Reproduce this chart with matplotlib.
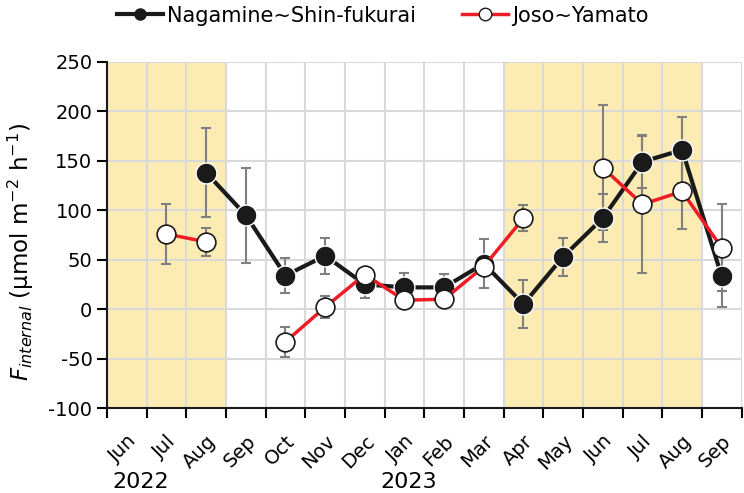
import numpy as np
import matplotlib
matplotlib.use("Agg")
import matplotlib.pyplot as plt
from matplotlib.lines import Line2D

# month labels (Jun 2022 .. Sep 2023)
months = ["Jun", "Jul", "Aug", "Sep", "Oct", "Nov", "Dec", "Jan",
          "Feb", "Mar", "Apr", "May", "Jun", "Jul", "Aug", "Sep"]

nan = np.nan
# Nagamine~Shin-fukurai
naga = [nan, nan, 138, 95, 34, 54, 25, 22, 22, 46, 5, 53, 92, 149, 161, 33]
naga_err = [nan, nan, 45, 48, 18, 18, 14, 15, 14, 25, 24, 19, 24, 27, 33, 31]
# Joso~Yamato
joso = [nan, 76, 68, nan, -33, 2, 35, 9, 10, 43, 92, nan, 143, 106, 119, 62]
joso_err = [nan, 30, 14, nan, 15, 11, 0, 0, 0, 0, 13, nan, 63, 69, 38, 44]

# shaded periods (month index ranges)
shade = [(0, 3), (10, 15)]

plt.rcParams["font.family"] = "DejaVu Sans"
plt.rcParams["mathtext.fontset"] = "dejavusans"
plt.rcParams["axes.unicode_minus"] = False

fig = plt.figure(figsize=(7.44, 4.93), dpi=100)
ax = fig.add_axes([0.1438, 0.1724, 0.853, 0.702])

x = np.arange(len(months)) + 0.5

for a, b in shade:
    ax.axvspan(a, b, color="#fcebb2", zorder=0.2, lw=0)

ax.errorbar(x, naga, yerr=naga_err, fmt="none", ecolor="#808080",
            elinewidth=1.5, capsize=3.5, capthick=1.5, zorder=2)
ax.errorbar(x, joso, yerr=joso_err, fmt="none", ecolor="#808080",
            elinewidth=1.5, capsize=3.5, capthick=1.5, zorder=2)

ax.plot(x, naga, color="#1a1a1a", lw=3, marker="o", ms=15,
        mfc="#1a1a1a", mec="white", mew=1, zorder=3)
ax.plot(x, joso, color="#ee1c24", lw=2.5, marker="o", ms=13.5,
        mfc="white", mec="#1a1a1a", mew=1.2, zorder=4)

ax.set_xlim(0, 16)
ax.set_ylim(-100, 250)
ax.set_yticks(np.arange(-100, 251, 50))
ax.set_xticks(np.arange(0, 17))
ax.set_xticklabels([])
ax.set_xticks(x, minor=True)
ax.set_xticklabels(months, minor=True, rotation=45, ha="right",
                   rotation_mode="anchor")
ax.tick_params(axis="x", which="minor", length=0, pad=17, labelsize=14)
ax.tick_params(axis="both", which="major", direction="out", length=7,
               width=1.5, labelsize=14)

ax.set_axisbelow(True)
ax.grid(True, which="major", color="#d9d9d9", lw=1.5, zorder=0.5)

for s in ["top", "right"]:
    ax.spines[s].set_visible(False)
for s in ["left", "bottom"]:
    ax.spines[s].set_linewidth(1.5)
    ax.spines[s].set_color("#1a1a1a")

ax.set_ylabel(r"$F_{internal}$ (µmol m$^{-2}$ h$^{-1}$)", fontsize=16.5)
ax.yaxis.set_label_coords(-0.112, 0.45)

ax.annotate("2022", xy=(0.85, 0.022), xycoords=("data", "figure fraction"),
            ha="center", va="center", fontsize=16)
ax.annotate("2023", xy=(7.6, 0.022), xycoords=("data", "figure fraction"),
            ha="center", va="center", fontsize=16)

handles = [
    Line2D([], [], color="#1a1a1a", lw=3, marker="o", ms=8, mfc="#1a1a1a",
           mec="#1a1a1a"),
    Line2D([], [], color="#ee1c24", lw=2.5, marker="o", ms=9, mfc="white",
           mec="#1a1a1a", mew=1),
]
fig.legend(handles, ["Nagamine~Shin-fukurai", "Joso~Yamato"], ncol=2,
           loc="center", bbox_to_anchor=(0.515, 0.968), frameon=False,
           fontsize=15, handlelength=2.2, handletextpad=0.2,
           columnspacing=2.2)

fig.savefig("out.png", dpi=100)
